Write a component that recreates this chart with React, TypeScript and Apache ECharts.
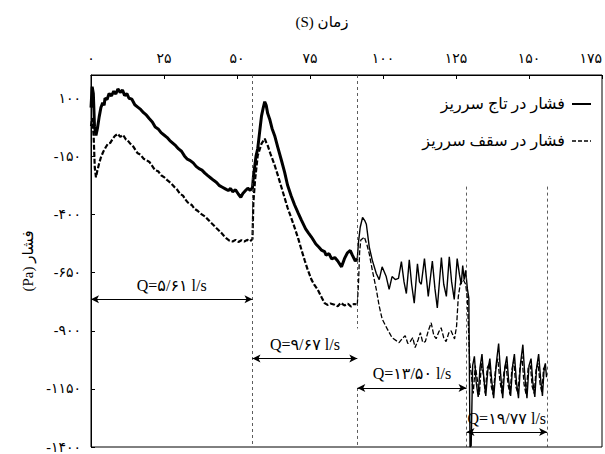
import React, { useEffect, useRef } from 'react';
import * as echarts from 'echarts';

const FONT = "'Times New Roman', 'Liberation Serif', 'DejaVu Serif', 'DejaVu Sans', serif";

const crestName = 'فشار در تاج سرریز';
const roofName = 'فشار در سقف سرریز';
const xTitle = '(S) زمان';
const yTitle = '(Pa) فشار';

const xTickValues = [0, 25, 50, 75, 100, 125, 150, 175];
const xTickLabels = ['۰', '۲۵', '۵۰', '۷۵', '۱۰۰', '۱۲۵', '۱۵۰', '۱۷۵'];
const yTickValues = [100, -150, -400, -650, -900, -1150, -1400];
const yTickLabels = ['۱۰۰', '-۱۵۰', '-۴۰۰', '-۶۵۰', '-۹۰۰', '-۱۱۵۰', '-۱۴۰۰'];

// flow-rate regimes
const regimeStart = [0, 55.3, 91.2, 128.6];
const regimeEnd = [55.3, 91.2, 128.6, 156.2];
const regimeLabels = ['Q=۵/۶۱ l/s', 'Q=۹/۶۷ l/s', 'Q=۱۳/۵۰ l/s', 'Q=۱۹/۷۷ l/s'];
const regimeArrowLevel = [-764, -1019, -1146, -1336];

const crest1 = [[0,60],[0.4,150],[0.8,120],[1.2,-20],[1.7,-60],[2.2,-30],[2.8,20],[3.4,60],[4,80],[4.5,70],[4.8,100],[5.5,95],[6.2,120],[7,110],[7.8,130],[8.5,118],[9.2,140],[10,125],[10.8,135],[11.5,112],[12.3,120],[13,100],[14,96],[15,72],[16,62],[17,52],[18,38],[19,27],[20,12],[21,-2],[22,-24],[23,-32],[24,-48],[25,-58],[26,-68],[27,-82],[28,-93],[29,-104],[30,-118],[31,-128],[32,-148],[33,-162],[34,-168],[35,-178],[36,-193],[37,-203],[38,-209],[39,-222],[40,-233],[41,-243],[42,-253],[43,-262],[44,-276],[45,-283],[46,-290],[47,-297],[47.8,-288],[48.5,-302],[49.5,-294],[50.5,-313],[51.3,-326],[52,-310],[53,-296],[53.7,-287],[54.5,-296],[55.3,-285]];
const crest2 = [[55.6,-240],[56,-200],[56.5,-150],[57.1,-116],[57.8,-40],[58.4,24],[59,60],[59.5,85],[60,70],[60.5,35],[61.2,10],[62,-30],[62.9,-61],[64,-112],[65.3,-171],[66.3,-218],[67.3,-273],[68.5,-318],[69.7,-358],[71,-395],[72.1,-425],[73.5,-462],[74.5,-480],[75.5,-497],[77,-527],[78,-540],[78.9,-553],[80,-560],[80.5,-575],[81.5,-568],[82.4,-591],[83.5,-585],[84.5,-600],[85.8,-625],[86.8,-590],[87.8,-565],[88.8,-555],[89.5,-575],[90.5,-600],[91.2,-590]];
const crest3 = [[91.2,-590],[91.6,-520],[92.2,-455],[93,-413],[93.7,-425],[94.3,-442],[95.3,-540],[96.3,-595],[97.7,-654],[98.7,-680],[99.7,-625],[101.1,-667],[102.1,-722],[103.1,-667],[104.2,-680],[105.3,-675],[106.3,-603],[107.2,-690],[108,-740],[109,-595],[109.8,-700],[110.7,-781],[111.8,-612],[112.5,-690],[113.1,-700],[114.2,-590],[115,-690],[115.5,-752],[116.9,-600],[117.8,-720],[118.6,-802],[120,-585],[120.8,-700],[121.7,-752],[122.7,-582],[123.5,-690],[124.4,-765],[125.4,-590],[126.2,-660],[126.8,-700],[127.3,-620],[127.8,-680],[128.3,-640],[128.9,-720],[129.4,-760]];
const crest4 = [[129.8,-1400],[130.2,-1395],[130.7,-1050],[131.3,-1010],[131.9,-1120],[132.6,-1185],[133.2,-1060],[133.9,-1000],[134.5,-1100],[135.2,-1180],[135.9,-1070],[136.6,-1020],[137.2,-1110],[137.9,-1190],[138.8,-1040],[139.6,-955],[140.3,-1090],[141,-1190],[141.7,-1060],[142.4,-1010],[143,-1110],[143.7,-1180],[144.4,-1050],[145,-1000],[145.7,-1120],[146.4,-1190],[147.1,-1040],[147.9,-960],[148.6,-1100],[149.3,-1190],[150,-1050],[150.7,-1020],[151.3,-1120],[152,-1185],[152.6,-1060],[153.3,-1000],[154,-1110],[154.6,-1180],[155.2,-1060],[155.6,-1040],[156,-1100]];

const roof1 = [[0,-20],[0.4,15],[0.9,-60],[1.3,-200],[1.7,-240],[2.2,-210],[2.8,-180],[3.4,-154],[4.2,-130],[5,-112],[5.8,-95],[6.6,-92],[7.4,-75],[8.2,-62],[9.2,-53],[10,-66],[11,-58],[12,-78],[12.6,-82],[13.5,-96],[14.5,-108],[15.2,-122],[16,-137],[17,-143],[18,-160],[19,-166],[20,-174],[21,-192],[21.9,-209],[23,-214],[24,-231],[25,-239],[26,-251],[27.3,-264],[28.5,-281],[29.5,-293],[30.5,-311],[31.5,-319],[32.5,-338],[33.2,-349],[34.5,-359],[35.5,-376],[36.5,-384],[37.5,-396],[39,-408],[40,-421],[41,-434],[42,-446],[43,-459],[44.4,-476],[45.5,-491],[46.5,-504],[47.5,-513],[48.5,-516],[49.5,-509],[50.5,-518],[51.5,-511],[52.5,-516],[53.5,-509],[54.5,-515],[55.3,-505]];
const roof2 = [[55.6,-350],[56.2,-250],[57.1,-146],[58.4,-95],[59.5,-74],[60,-90],[60.5,-103],[61.5,-140],[62.9,-188],[64,-232],[65.3,-286],[66.3,-328],[67.3,-370],[68.5,-412],[69.7,-455],[71,-505],[72.1,-553],[73.2,-598],[74.2,-637],[75.5,-680],[76.5,-703],[77.6,-722],[79,-757],[80,-781],[81,-789],[82,-783],[83.4,-788],[84.5,-795],[85.5,-780],[86.8,-791],[88,-784],[89,-796],[90,-785],[90.9,-786]];
const roof3 = [[91.2,-786],[91.6,-700],[92,-560],[92.4,-510],[93.6,-497],[94.5,-530],[95.3,-569],[96.3,-637],[97.7,-722],[98.7,-794],[99.7,-849],[101.4,-891],[103.1,-930],[105.5,-951],[106.5,-935],[107.6,-921],[108.5,-955],[109.3,-947],[110.2,-930],[111,-972],[112,-940],[112.8,-908],[113.6,-950],[114.5,-947],[115.5,-900],[116.5,-866],[117.4,-920],[118.2,-934],[119.1,-905],[119.9,-887],[120.8,-930],[121.6,-947],[122.5,-910],[123.3,-900],[124.5,-935],[125.2,-880],[125.8,-752],[126.5,-697],[127.5,-680],[128.3,-700],[128.9,-760],[129.3,-900],[129.7,-1040]];
const roof4 = [[130.2,-1080],[130.9,-1170],[131.6,-1050],[132.3,-1110],[133,-1175],[133.7,-1040],[134.4,-1090],[135,-1170],[135.7,-1060],[136.4,-1040],[137.1,-1140],[137.7,-1175],[138.5,-1070],[139.3,-1020],[140,-1110],[140.7,-1170],[141.4,-1080],[142.1,-1040],[142.8,-1130],[143.5,-1175],[144.1,-1070],[144.8,-1030],[145.5,-1140],[146.2,-1170],[146.9,-1060],[147.6,-1010],[148.3,-1130],[149,-1175],[149.7,-1060],[150.5,-1050],[151.1,-1140],[151.8,-1170],[152.4,-1070],[153.1,-1040],[153.8,-1130],[154.4,-1165],[155,-1060],[155.6,-1070]];

const Y_MIN = -1400;
const Y_MAX = 200;

export default function App() {
  const ref = useRef<HTMLDivElement>(null);
  useEffect(() => {
    if (!ref.current) return;
    const chart = echarts.init(ref.current, undefined, { renderer: 'svg' });
    const black = '#000';
    const vLineStyle = { type: [3, 3] as any, color: '#333', width: 0.8 };
    const option: any = {
      animation: false,
      backgroundColor: '#fff',
      grid: { left: 91, right: 3, top: 75, bottom: 1, show: true, borderColor: black, borderWidth: 1 },
      graphic: [
        { type: 'text', x: 322, y: 22, style: { text: xTitle, align: 'center', verticalAlign: 'middle', fontSize: 15, fontFamily: FONT, fill: black } },
        { type: 'text', x: 565, y: 103, style: { text: crestName, align: 'right', verticalAlign: 'middle', fontSize: 16, fontFamily: FONT, fill: black } },
        { type: 'line', shape: { x1: 572, y1: 104, x2: 591, y2: 104 }, style: { stroke: black, lineWidth: 2 } },
        { type: 'text', x: 565, y: 140, style: { text: roofName, align: 'right', verticalAlign: 'middle', fontSize: 16, fontFamily: FONT, fill: black } },
        { type: 'line', shape: { x1: 572, y1: 141, x2: 591, y2: 141 }, style: { stroke: black, lineWidth: 1.5, lineDash: [4, 2] } },
      ],
      xAxis: {
        type: 'value',
        position: 'top',
        min: 0,
        max: 175,
        interval: 25,
        axisLine: { show: true, onZero: false, lineStyle: { color: black, width: 1 } },
        axisTick: { show: true, inside: true, length: 4, lineStyle: { color: black } },
        splitLine: { show: false },
        axisLabel: {
          margin: 10,
          fontSize: 14,
          fontFamily: FONT,
          color: black,
          alignMaxLabel: 'right',
          formatter: (v: number) => {
            const i = xTickValues.indexOf(v);
            return i >= 0 ? xTickLabels[i] : '';
          },
        },
      },
      yAxis: {
        type: 'value',
        min: Y_MIN,
        max: Y_MAX,
        interval: 250,
        name: yTitle,
        nameLocation: 'middle',
        nameGap: 48,
        nameRotate: 90,
        nameTextStyle: { fontSize: 15, fontFamily: FONT, color: black },
        axisLine: { show: true, onZero: false, lineStyle: { color: black, width: 1 } },
        axisTick: { show: true, inside: true, length: 4, lineStyle: { color: black } },
        splitLine: { show: false },
        axisLabel: {
          margin: 10,
          fontSize: 14,
          fontFamily: FONT,
          color: black,
          formatter: (v: number) => {
            const i = yTickValues.indexOf(v);
            return i >= 0 ? yTickLabels[i] : '';
          },
        },
      },
      series: [
        {
          name: crestName,
          type: 'line',
          data: [...crest1, ...crest2],
          symbol: 'none',
          showSymbol: false,
          lineStyle: { color: black, width: 3 },
          itemStyle: { color: black },
          z: 3,
          markLine: {
            silent: true,
            symbol: 'none',
            label: { show: false },
            lineStyle: vLineStyle,
            data: [
              [{ coord: [regimeEnd[0], Y_MAX] }, { coord: [regimeEnd[0], Y_MIN] }],
              [{ coord: [regimeEnd[1], Y_MAX] }, { coord: [regimeEnd[1], -890] }],
              [{ coord: [regimeEnd[1], -1146] }, { coord: [regimeEnd[1], Y_MIN] }],
              [{ coord: [regimeEnd[2], -280] }, { coord: [regimeEnd[2], Y_MIN] }],
              [{ coord: [regimeEnd[3], -280] }, { coord: [regimeEnd[3], Y_MIN] }],
            ],
          },
        },
        {
          name: crestName,
          type: 'line',
          data: [...crest3, ...crest4],
          symbol: 'none',
          showSymbol: false,
          lineStyle: { color: black, width: 1.4 },
          itemStyle: { color: black },
          z: 3,
        },
        {
          name: roofName,
          type: 'line',
          data: [...roof1, ...roof2],
          symbol: 'none',
          showSymbol: false,
          lineStyle: { color: black, width: 2.2, type: [5, 2] },
          itemStyle: { color: black },
          z: 2,
          markLine: {
            silent: true,
            symbol: ['arrow', 'arrow'],
            symbolSize: [6, 8],
            lineStyle: { type: 'solid', color: black, width: 1 },
            label: {
              show: true,
              position: 'middle',
              formatter: '{b}',
              color: black,
              fontSize: 16,
              fontFamily: FONT,
              distance: 6,
            },
            data: regimeLabels.map((lab, i) => [
              { name: lab, coord: [regimeStart[i], regimeArrowLevel[i]] },
              { coord: [regimeEnd[i], regimeArrowLevel[i]] },
            ]),
          },
        },
        {
          name: roofName,
          type: 'line',
          data: [...roof3, ...roof4],
          symbol: 'none',
          showSymbol: false,
          lineStyle: { color: black, width: 1.3, type: [5, 2] },
          itemStyle: { color: black },
          z: 2,
        },
      ],
    };
    chart.setOption(option);
    return () => chart.dispose();
  }, []);
  return <div ref={ref} style={{ position: 'fixed', left: 0, top: 0, width: 605, height: 454, background: '#fff' }} />;
}
